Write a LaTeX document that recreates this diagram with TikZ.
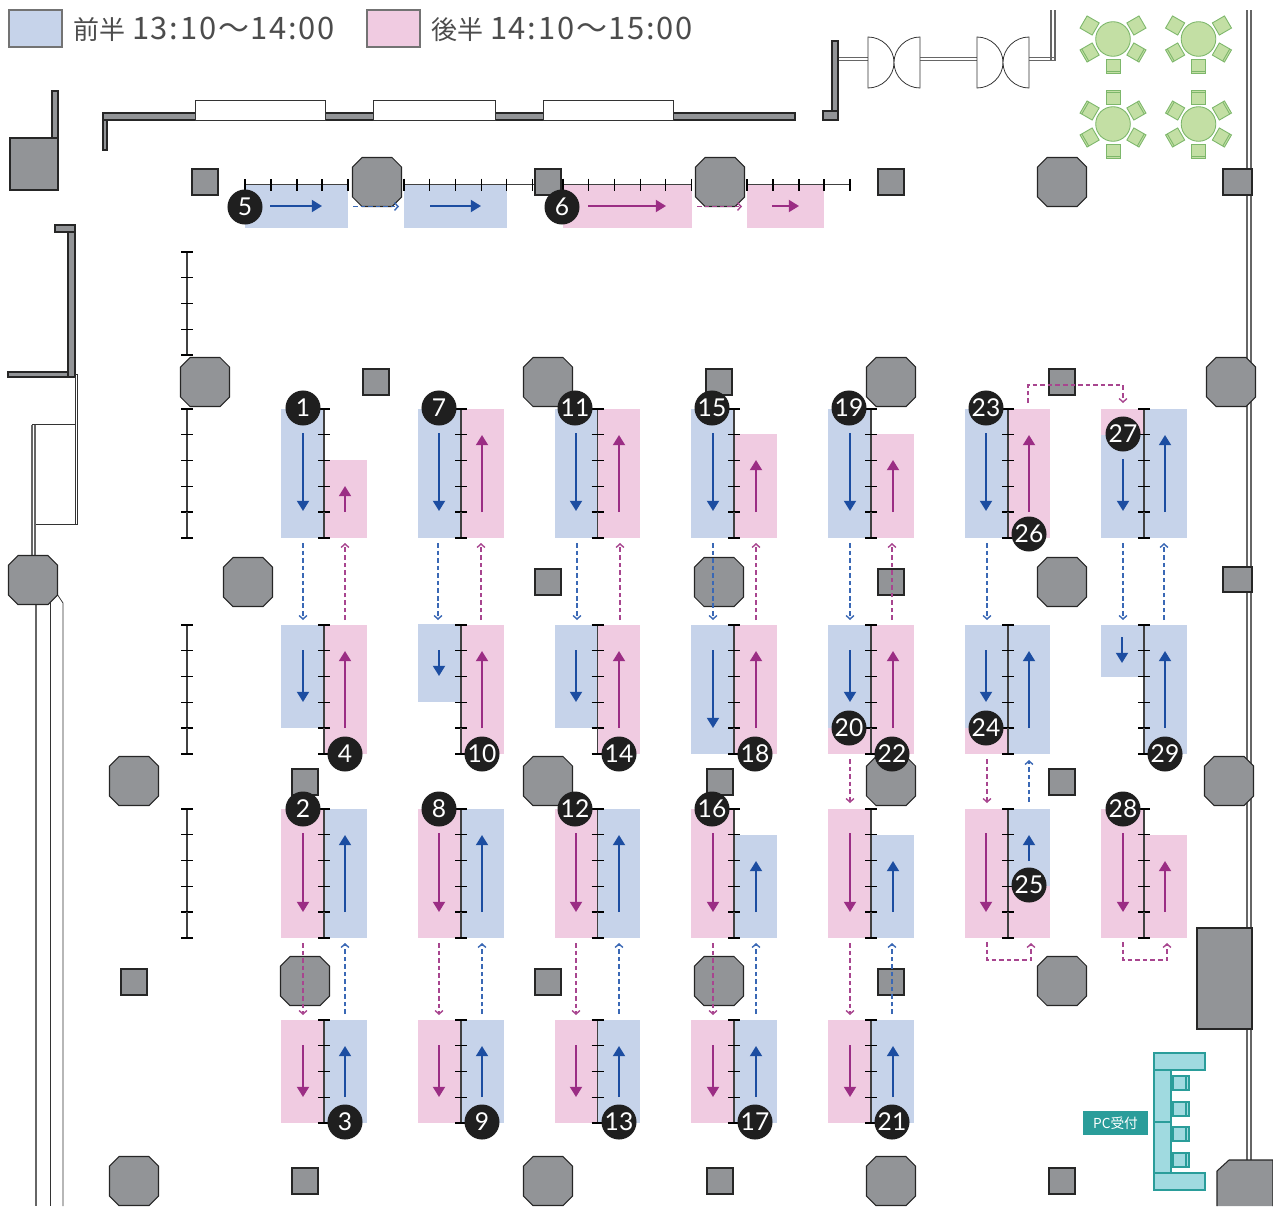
\documentclass[tikz,border=0pt]{standalone}
\usepackage{fontspec}
\setmainfont{Lato}
\newfontfamily\cjkfont{Noto Sans CJK JP}
\newfontfamily\timefont[LetterSpace=5.6]{Noto Sans CJK JP}
\usetikzlibrary{arrows.meta}
\definecolor{blueback}{HTML}{C6D3EA}
\definecolor{pinkback}{HTML}{F0CBE1}
\definecolor{bluemark}{HTML}{1C4DA1}
\definecolor{pinkmark}{HTML}{9B2D84}
\definecolor{bluedash}{HTML}{3A68B5}
\definecolor{pinkdash}{HTML}{A8458F}
\definecolor{pillargray}{HTML}{929497}
\definecolor{tablegreen}{HTML}{C3DFA4}
\definecolor{tableedge}{HTML}{7DB76B}
\definecolor{deskteal}{HTML}{A0DAE0}
\definecolor{deskedge}{HTML}{2A9D9A}
\tikzset{
  pillar/.style={fill=pillargray, draw=black!85, line width=0.3pt},
  wallline/.style={draw=black!60, line width=0.3pt},
  thinline/.style={draw=black!80, line width=0.22pt},
  spineline/.style={draw=black!75, line width=0.3pt},
  tickline/.style={draw=black, line width=0.3pt},
  chairbox/.style={fill=tablegreen, draw=tableedge, line width=0.25pt},
  deskbox/.style={fill=deskteal, draw=deskedge, line width=0.3pt},
  keybox/.style={draw=black!55, line width=0.4pt},
  solidarrow/.style={line width=0.6pt, -{Triangle[length=2.9pt,width=3.4pt]}},
  dasharrow/.style={line width=0.4pt, dash pattern=on 1.3pt off 0.85pt, -{Straight Barb[length=1pt,width=2.2pt]}},
  badge/.style={circle, fill=black!88, text=white, inner sep=0pt, minimum size=35*0.2845pt, font=\fontsize{7}{7}\selectfont}
}
\newcommand{\pillarS}[2]{ \draw[pillar] (#1-13,#2-13) rectangle (#1+13,#2+13);}
\newcommand{\pillarO}[2]{ \draw[pillar] (#1-15,#2-24.5) -- (#1+15,#2-24.5) -- (#1+24.5,#2-15) -- (#1+24.5,#2+15) -- (#1+15,#2+24.5) -- (#1-15,#2+24.5) -- (#1-24.5,#2+15) -- (#1-24.5,#2-15) -- cycle;}
\newcommand{\blueRect}[4]{ \fill[blueback] (#1,#2) rectangle (#3,#4);}
\newcommand{\pinkRect}[4]{ \fill[pinkback] (#1,#2) rectangle (#3,#4);}
\newcommand{\blueArrow}[4]{ \draw[solidarrow, bluemark] (#1,#2) -- (#3,#4);}
\newcommand{\pinkArrow}[4]{ \draw[solidarrow, pinkmark] (#1,#2) -- (#3,#4);}
\newcommand{\blueDash}[4]{ \draw[dasharrow, bluedash] (#1,#2) -- (#3,#4);}
\newcommand{\pinkDash}[4]{ \draw[dasharrow, pinkdash] (#1,#2) -- (#3,#4);}
\newcommand{\spineFive}[2]{ \draw[spineline] (#1,#2) -- (#1,#2+103); \draw[tickline] (#1-6,#2) -- (#1+6,#2); \draw[tickline] (#1-6,#2+25.75) -- (#1+6,#2+25.75); \draw[tickline] (#1-6,#2+51.5) -- (#1+6,#2+51.5); \draw[tickline] (#1-6,#2+77.25) -- (#1+6,#2+77.25); \draw[tickline] (#1-6,#2+103) -- (#1+6,#2+103);}
\newcommand{\spineSix}[2]{ \spineFive{#1}{#2} \draw[spineline] (#1,#2+103) -- (#1,#2+129); \draw[tickline] (#1-6,#2+129) -- (#1+6,#2+129);}
\newcommand{\spineH}[2]{ \draw[spineline] (#1,#2) -- (#1+128.5,#2); \draw[tickline] (#1,#2-6) -- (#1,#2+6); \draw[tickline] (#1+25.7,#2-6) -- (#1+25.7,#2+6); \draw[tickline] (#1+51.4,#2-6) -- (#1+51.4,#2+6); \draw[tickline] (#1+77.1,#2-6) -- (#1+77.1,#2+6); \draw[tickline] (#1+102.8,#2-6) -- (#1+102.8,#2+6); \draw[tickline] (#1+128.5,#2-6) -- (#1+128.5,#2+6);}
\newcommand{\badgeAt}[3]{ \node[badge] (badge#3) at (#1,#2) {#3};}
\newcommand{\chairP}[3]{ \draw[chairbox, rotate around={#3:(#1,#2)}] (#1-7,#2-7) rectangle (#1+7,#2+7);}
\newcommand{\chairL}[3]{ \chairP{#1}{#2}{#3} \draw[tableedge, line width=0.25pt, rotate around={#3:(#1,#2)}] (#1-7,#2+5) -- (#1+7,#2+5);}
\newcommand{\tableU}[2]{ \draw[chairbox] (#1,#2) circle (17.3); \chairP{#1-23.4}{#2-13.5}{-30} \chairP{#1+23.4}{#2-13.5}{30} \chairL{#1-23.4}{#2+13.5}{-60} \chairL{#1+23.4}{#2+13.5}{60} \chairL{#1}{#2+27}{0}}
\newcommand{\tableL}[2]{ \draw[chairbox] (#1,#2) circle (17.3); \chairL{#1-23.4}{#2-13.5}{-120} \chairL{#1+23.4}{#2-13.5}{120} \chairL{#1-23.4}{#2+13.5}{-60} \chairL{#1+23.4}{#2+13.5}{60} \chairL{#1}{#2+27}{0} \chairL{#1}{#2-27}{180}}
\newcommand{\doorP}[2]{ \draw[thinline, fill=white] (#1,#2-25.5) .. controls (#1+14,#2-25.5) and (#1+26,#2-14) .. (#1+26,#2) .. controls (#1+26,#2+14) and (#1+14,#2+25.5) .. (#1,#2+25.5) -- cycle; \draw[thinline, fill=white] (#1+52,#2-25.5) .. controls (#1+38,#2-25.5) and (#1+26,#2-14) .. (#1+26,#2) .. controls (#1+26,#2+14) and (#1+38,#2+25.5) .. (#1+52,#2+25.5) -- cycle;}
\newcommand{\deskChair}[1]{ \draw[deskbox] (1173,#1) rectangle (1189,#1+14); \draw[deskedge, line width=0.3pt] (1186,#1) -- (1186,#1+14);}

\begin{document}
\begin{tikzpicture}[x=0.01cm, y=-0.01cm]
        \useasboundingbox (0,0) rectangle (1273,1206);
        % legend
        \draw[keybox, fill=blueback] (9,10) rectangle (62,47);
        \node[anchor=west, inner sep=0pt, text=black!70] (keyfirst) at (73,29) {\cjkfont\fontsize{7.4}{9}\selectfont 前半\hspace{1.8pt}\timefont\fontsize{8.8}{9}\selectfont 13:10～14:00};
        \draw[keybox, fill=pinkback] (367,10) rectangle (420,47);
        \node[anchor=west, inner sep=0pt, text=black!70] (keysecond) at (431,29) {\cjkfont\fontsize{7.4}{9}\selectfont 後半\hspace{1.8pt}\timefont\fontsize{8.8}{9}\selectfont 14:10～15:00};
        % walls top
        \draw[pillar] (52,91) rectangle (58,138);
        \draw[pillar] (10,138) rectangle (58,190);
        \draw[pillar] (103,113) rectangle (795,120);
        \draw[pillar] (103,120) rectangle (107,150);
        \draw[thinline, fill=white] (195,100) rectangle (325,120);
        \draw[thinline, fill=white] (373,100) rectangle (495,120);
        \draw[thinline, fill=white] (543,100) rectangle (673,120);
        % doors
        \draw[wallline] (838,57.5) -- (1054,57.5);
        \draw[wallline] (838,60.5) -- (1054,60.5);
        \draw[wallline] (1051,10) -- (1051,60.5);
        \draw[wallline] (1055,10) -- (1055,60.5);
        \draw[pillar] (832,41) rectangle (838,111);
        \draw[pillar] (823,111) rectangle (838,120);
        \doorP{868}{62.5}
        \doorP{977}{62.5}
        % tables
        \tableU{1113}{39}
        \tableU{1198.5}{39}
        \tableL{1113}{124}
        \tableL{1198.5}{124}
        % walls left
        \draw[pillar] (55,225) rectangle (75,232);
        \draw[pillar] (68,232) rectangle (75,377);
        \draw[pillar] (8,372) rectangle (68,377);
        \draw[thinline] (75,374) -- (77.5,374) -- (77.5,524) -- (35,524);
        \draw[thinline] (75,377) -- (75,524);
        \draw[thinline] (32,424.5) -- (75,424.5);
        \draw[wallline] (32,424.5) -- (32,557);
        \draw[wallline] (35,424.5) -- (35,557);
        \draw[wallline] (36,600) -- (36,1206);
        \draw[thinline] (50,600) -- (50,1206);
        \draw[thinline] (57,594) -- (63,603) -- (63,1206);
        % wall right
        \draw[wallline] (1247,10) -- (1247,1165);
        \draw[wallline] (1251,10) -- (1251,1165);
        \draw[pillar] (1223,169) rectangle (1252,195);
        \draw[pillar] (1223,567) rectangle (1252,592);
        \draw[pillar] (1197,928) rectangle (1252,1029);
        \draw[pillar] (1217,1206) -- (1217,1171) -- (1229,1160) -- (1273,1160) -- (1273,1206);
        % square pillars
        \pillarS{205}{182}
        \pillarS{548}{182}
        \pillarS{891}{182}
        \pillarS{376}{382}
        \pillarS{719}{382}
        \pillarS{1062}{382}
        \pillarS{548}{582}
        \pillarS{891}{582}
        \pillarS{305}{782}
        \pillarS{720}{782}
        \pillarS{1062}{782}
        \pillarS{134}{982}
        \pillarS{548}{982}
        \pillarS{891}{982}
        \pillarS{305}{1181}
        \pillarS{720}{1181}
        \pillarS{1062}{1181}
        % octagon pillars
        \pillarO{377}{182}
        \pillarO{720}{182}
        \pillarO{1062}{182}
        \pillarO{205}{382}
        \pillarO{548}{382}
        \pillarO{891}{382}
        \pillarO{1231}{382}
        \pillarO{248}{582}
        \pillarO{719}{582}
        \pillarO{1062}{582}
        \pillarO{33}{580}
        \pillarO{134}{781}
        \pillarO{548}{781}
        \pillarO{891}{781}
        \pillarO{1229}{781}
        \pillarO{305}{981}
        \pillarO{719}{981}
        \pillarO{1062}{981}
        \pillarO{134}{1181}
        \pillarO{548}{1181}
        \pillarO{891}{1181}
        % row0
        \blueRect{245}{185}{348}{228}
        \blueRect{404}{185}{507}{228}
        \pinkRect{563}{185}{692}{228}
        \pinkRect{747}{185}{824}{228}
        \draw[spineline] (245,184.7) -- (348,184.7);
        \draw[tickline] (245,179) -- (245,191);
        \draw[tickline] (271,179) -- (271,191);
        \draw[tickline] (297,179) -- (297,191);
        \draw[tickline] (322,179) -- (322,191);
        \draw[tickline] (348,179) -- (348,191);
        \spineH{404}{184.7}
        \draw[spineline] (533,184.7) -- (563,184.7);
        \spineH{563}{184.7}
        \draw[spineline] (747,184.7) -- (850,184.7);
        \draw[tickline] (747,179) -- (747,191);
        \draw[tickline] (773,179) -- (773,191);
        \draw[tickline] (799,179) -- (799,191);
        \draw[tickline] (824,179) -- (824,191);
        \draw[tickline] (850,179) -- (850,191);
        \pillarS{548}{182}
        \blueArrow{270}{206}{322}{206}
        \blueArrow{430}{206}{481}{206}
        \pinkArrow{588}{206}{666}{206}
        \pinkArrow{772}{206}{799}{206}
        \blueDash{353}{206.5}{399}{206.5}
        \pinkDash{697}{206.5}{742}{206.5}
        % left spines
        \spineFive{187}{252}
        \spineSix{187}{409}
        \spineSix{187}{625}
        \spineSix{187}{809}
        % row1
        \blueRect{281}{409}{324}{538}
        \pinkRect{324}{460}{367}{538}
        \spineSix{324}{409}
        \blueArrow{303}{433}{303}{511}
        \pinkArrow{345}{512}{345}{486}
        \blueRect{418}{409}{461}{538}
        \pinkRect{461}{409}{504}{538}
        \spineSix{461}{409}
        \blueArrow{439}{433}{439}{511}
        \pinkArrow{482}{512}{482}{435}
        \blueRect{555}{409}{597.5}{538}
        \pinkRect{597.5}{409}{640}{538}
        \spineSix{597.5}{409}
        \blueArrow{576}{433}{576}{511}
        \pinkArrow{619}{512}{619}{435}
        \blueRect{691}{409}{734}{538}
        \pinkRect{734}{434}{777}{538}
        \spineSix{734}{409}
        \blueArrow{713}{433}{713}{511}
        \pinkArrow{756}{512}{756}{460}
        \blueRect{828}{409}{871}{538}
        \pinkRect{871}{434}{914}{538}
        \spineSix{871}{409}
        \blueArrow{850}{433}{850}{511}
        \pinkArrow{893}{512}{893}{460}
        \blueRect{965}{409}{1008}{538}
        \pinkRect{1008}{409}{1050}{538}
        \spineSix{1008}{409}
        \blueArrow{986}{433}{986}{511}
        \pinkArrow{1029}{512}{1029}{435}
        \pinkRect{1101}{409}{1144}{435}
        \blueRect{1101}{435}{1144}{538}
        \blueRect{1144}{409}{1187}{538}
        \spineSix{1144}{409}
        \blueArrow{1123}{459}{1123}{511}
        \blueArrow{1165}{512}{1165}{435}
        \draw[dasharrow, pinkdash] (1028,403) -- (1028,385) -- (1123,385) -- (1123,403);
        % row1 to row2
        \blueDash{303}{543}{303}{620}
        \pinkDash{345}{620}{345}{543}
        \blueDash{438}{543}{438}{620}
        \pinkDash{481}{620}{481}{543}
        \blueDash{577}{543}{577}{620}
        \pinkDash{620}{620}{620}{543}
        \blueDash{713}{543}{713}{620}
        \pinkDash{756}{620}{756}{543}
        \blueDash{850}{543}{850}{620}
        \pinkDash{892}{620}{892}{543}
        \blueDash{987}{543}{987}{620}
        \blueDash{1123}{543}{1123}{620}
        \blueDash{1164}{620}{1164}{543}
        % row2
        \blueRect{281}{625}{324}{728}
        \pinkRect{324}{625}{367}{754}
        \spineSix{324}{625}
        \blueArrow{303}{650}{303}{702}
        \pinkArrow{345}{728}{345}{651}
        \blueRect{418}{624}{461}{702}
        \pinkRect{461}{625}{504}{754}
        \spineSix{461}{625}
        \blueArrow{439}{650}{439}{676}
        \pinkArrow{482}{728}{482}{651}
        \blueRect{555}{625}{597.5}{728}
        \pinkRect{597.5}{625}{640}{754}
        \spineSix{597.5}{625}
        \blueArrow{576}{650}{576}{702}
        \pinkArrow{619}{728}{619}{651}
        \blueRect{691}{625}{734}{754}
        \pinkRect{734}{625}{777}{754}
        \spineSix{734}{625}
        \blueArrow{713}{650}{713}{728}
        \pinkArrow{756}{728}{756}{651}
        \blueRect{828}{625}{871}{728}
        \pinkRect{828}{728}{871}{754}
        \pinkRect{871}{625}{914}{754}
        \spineSix{871}{625}
        \blueArrow{850}{650}{850}{702}
        \pinkArrow{893}{728}{893}{651}
        \blueRect{965}{625}{1008}{728}
        \pinkRect{965}{728}{1008}{754}
        \blueRect{1008}{625}{1050}{754}
        \spineSix{1008}{625}
        \blueArrow{986}{650}{986}{702}
        \blueArrow{1029}{728}{1029}{651}
        \blueRect{1101}{625}{1144}{677}
        \blueRect{1144}{625}{1187}{754}
        \spineSix{1144}{625}
        \blueArrow{1122}{637}{1122}{663}
        \blueArrow{1165}{728}{1165}{651}
        % row2 to row3
        \pinkDash{850}{759}{850}{803}
        \pinkDash{987}{759}{987}{803}
        \blueDash{1029}{802}{1029}{760}
        % row3
        \pinkRect{281}{809}{324}{938}
        \blueRect{324}{809}{367}{938}
        \spineSix{324}{809}
        \pinkArrow{303}{833}{303}{912}
        \blueArrow{345}{912}{345}{835}
        \pinkRect{418}{809}{461}{938}
        \blueRect{461}{809}{504}{938}
        \spineSix{461}{809}
        \pinkArrow{439}{833}{439}{912}
        \blueArrow{482}{912}{482}{835}
        \pinkRect{555}{809}{597.5}{938}
        \blueRect{597.5}{809}{640}{938}
        \spineSix{597.5}{809}
        \pinkArrow{576}{833}{576}{912}
        \blueArrow{619}{912}{619}{835}
        \pinkRect{691}{809}{734}{938}
        \blueRect{734}{835}{777}{938}
        \spineSix{734}{809}
        \pinkArrow{713}{833}{713}{912}
        \blueArrow{756}{912}{756}{861}
        \pinkRect{828}{809}{871}{938}
        \blueRect{871}{835}{914}{938}
        \spineSix{871}{809}
        \pinkArrow{850}{833}{850}{912}
        \blueArrow{893}{912}{893}{861}
        \pinkRect{965}{809}{1008}{938}
        \blueRect{1008}{809}{1050}{886}
        \pinkRect{1008}{886}{1050}{938}
        \spineSix{1008}{809}
        \pinkArrow{986}{833}{986}{912}
        \blueArrow{1029}{861}{1029}{835}
        \pinkRect{1101}{809}{1144}{938}
        \pinkRect{1144}{835}{1187}{938}
        \spineSix{1144}{809}
        \pinkArrow{1123}{833}{1123}{912}
        \pinkArrow{1165}{912}{1165}{861}
        % row3 to row4
        \pinkDash{303}{943}{303}{1015}
        \blueDash{345}{1014}{345}{943}
        \pinkDash{439}{943}{439}{1015}
        \blueDash{482}{1014}{482}{943}
        \pinkDash{576}{943}{576}{1015}
        \blueDash{619}{1014}{619}{943}
        \pinkDash{713}{943}{713}{1015}
        \blueDash{756}{1014}{756}{943}
        \pinkDash{850}{943}{850}{1015}
        \blueDash{892}{1014}{892}{943}
        \draw[dasharrow, pinkdash] (987,942) -- (987,960) -- (1031,960) -- (1031,943);
        \draw[dasharrow, pinkdash] (1123,942) -- (1123,960) -- (1167,960) -- (1167,943);
        % row4
        \pinkRect{281}{1020}{324}{1123}
        \blueRect{324}{1020}{367}{1123}
        \spineFive{324}{1020}
        \pinkArrow{303}{1045}{303}{1097}
        \blueArrow{345}{1097}{345}{1046}
        \pinkRect{418}{1020}{461}{1123}
        \blueRect{461}{1020}{504}{1123}
        \spineFive{461}{1020}
        \pinkArrow{439}{1045}{439}{1097}
        \blueArrow{482}{1097}{482}{1046}
        \pinkRect{555}{1020}{597.5}{1123}
        \blueRect{597.5}{1020}{640}{1123}
        \spineFive{597.5}{1020}
        \pinkArrow{576}{1045}{576}{1097}
        \blueArrow{619}{1097}{619}{1046}
        \pinkRect{691}{1020}{734}{1123}
        \blueRect{734}{1020}{777}{1123}
        \spineFive{734}{1020}
        \pinkArrow{713}{1045}{713}{1097}
        \blueArrow{756}{1097}{756}{1046}
        \pinkRect{828}{1020}{871}{1123}
        \blueRect{871}{1020}{914}{1123}
        \spineFive{871}{1020}
        \pinkArrow{850}{1045}{850}{1097}
        \blueArrow{893}{1097}{893}{1046}
        % reception
        \draw[deskbox] (1154,1070) rectangle (1171,1122);
        \draw[deskbox] (1154,1122) rectangle (1171,1173);
        \draw[deskbox] (1154,1053) rectangle (1205,1070);
        \draw[deskbox] (1154,1173) rectangle (1205,1190);
        \deskChair{1076}
        \deskChair{1102}
        \deskChair{1127}
        \deskChair{1153}
        \node[fill=deskedge, text=white, inner sep=0pt, minimum width=65*0.2845pt, minimum height=24*0.2845pt] (pcdesk) at (1115.5,1123) {\cjkfont\fontsize{3.9}{5}\selectfont PC受付};
        % numbers
        \badgeAt{303}{408}{1}
        \badgeAt{303}{809}{2}
        \badgeAt{345}{1122}{3}
        \badgeAt{345}{754}{4}
        \badgeAt{245}{207}{5}
        \badgeAt{562}{207}{6}
        \badgeAt{439}{408}{7}
        \badgeAt{439}{809}{8}
        \badgeAt{482}{1122}{9}
        \badgeAt{482}{754}{10}
        \badgeAt{575}{408}{11}
        \badgeAt{575}{809}{12}
        \badgeAt{619}{1122}{13}
        \badgeAt{619}{754}{14}
        \badgeAt{712}{408}{15}
        \badgeAt{712}{809}{16}
        \badgeAt{755}{1122}{17}
        \badgeAt{755}{754}{18}
        \badgeAt{849}{408}{19}
        \badgeAt{849}{728}{20}
        \badgeAt{892}{1122}{21}
        \badgeAt{892}{754}{22}
        \badgeAt{986}{408}{23}
        \badgeAt{986}{728}{24}
        \badgeAt{1029}{885}{25}
        \badgeAt{1029}{534}{26}
        \badgeAt{1123}{434}{27}
        \badgeAt{1123}{809}{28}
        \badgeAt{1165}{754}{29}
    \end{tikzpicture}
\end{document}
